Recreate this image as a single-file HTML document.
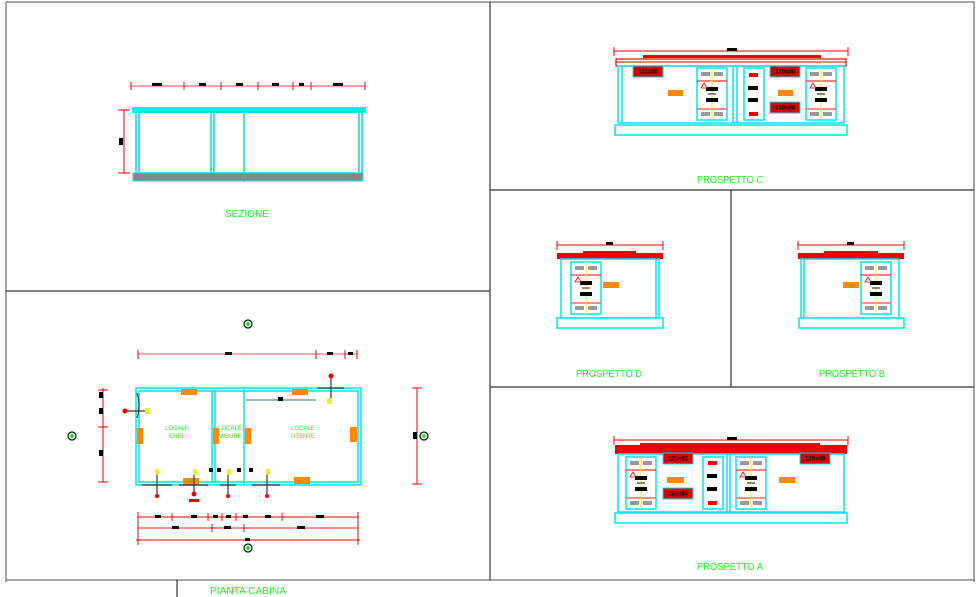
<!DOCTYPE html>
<html><head><meta charset="utf-8"><style>
html,body{margin:0;padding:0;background:#fff;}
svg{display:block;}
text{font-family:"Liberation Sans",sans-serif;}
.g{fill:#22ee22;font-size:10px;}
.k{fill:#000;font-size:4px;font-weight:bold;}
</style></head><body>
<svg width="980" height="597" viewBox="0 0 980 597" xmlns="http://www.w3.org/2000/svg">
<defs>
<g id="win">
  <rect x="0" y="0" width="30" height="52" fill="#fff" stroke="#00e5ee" stroke-width="1.5"/>
  <rect x="4" y="4" width="9" height="4" fill="#999"/><rect x="17" y="4" width="9" height="4" fill="#999"/>
  <line x1="0" y1="13" x2="30" y2="13" stroke="#e00" stroke-width="1"/>
  <line x1="0" y1="41" x2="30" y2="41" stroke="#f66" stroke-width="1.5"/>
  <rect x="4" y="44" width="9" height="4" fill="#999"/><rect x="17" y="44" width="9" height="4" fill="#999"/>
  <line x1="15" y1="0" x2="15" y2="52" stroke="#ee0" stroke-width="1"/>
  <rect x="9" y="19" width="12" height="4" fill="#000"/>
  <rect x="11" y="25" width="8" height="2" fill="#888"/>
  <rect x="9" y="30" width="12" height="4" fill="#000"/>
  <path d="M4 20 l3 -5 l3 5z" fill="none" stroke="#e00" stroke-width="0.8"/>
</g>
<g id="lbl"><rect x="0" y="0" width="30" height="11" fill="#d00" stroke="#00e5ee" stroke-width="1"/><text x="15" y="7.5" text-anchor="middle" style="font-size:6px;fill:#000;font-weight:bold">120x80</text></g>
</defs>

<!-- frames -->
<g stroke="#888" stroke-width="1.5" fill="none">
  <line x1="6" y1="2" x2="975" y2="2"/>
  <line x1="6" y1="2" x2="6" y2="582"/>
  <line x1="974" y1="2" x2="974" y2="582"/>
  <line x1="6" y1="580" x2="975" y2="580"/>
</g>
<g stroke="#333" stroke-width="1.2">
  <line x1="490" y1="2" x2="490" y2="580"/>
  <line x1="6" y1="291" x2="490" y2="291"/>
  <line x1="490" y1="190" x2="974" y2="190"/>
  <line x1="490" y1="387" x2="974" y2="387"/>
  <line x1="731" y1="190" x2="731" y2="387"/>
  <line x1="177" y1="580" x2="177" y2="597"/>
</g>

<!-- SEZIONE -->
<g>
  <line x1="131" y1="86" x2="365" y2="86" stroke="#f44" stroke-width="1"/>
  <g stroke="#e00" stroke-width="1">
    <line x1="131" y1="82" x2="131" y2="90"/><line x1="184" y1="82" x2="184" y2="90"/><line x1="221" y1="82" x2="221" y2="90"/>
    <line x1="258" y1="82" x2="258" y2="90"/><line x1="293" y1="82" x2="293" y2="90"/><line x1="311" y1="82" x2="311" y2="90"/><line x1="365" y1="82" x2="365" y2="90"/>
  </g>
  <g fill="#000"><rect x="152" y="83" width="10" height="3"/><rect x="199" y="83" width="7" height="3"/><rect x="236" y="83" width="7" height="3"/><rect x="272" y="83" width="7" height="3"/><rect x="299" y="83" width="5" height="3"/><rect x="333" y="83" width="10" height="3"/></g>
  <rect x="132" y="107" width="234" height="6" fill="#00f0f0"/>
  <g fill="none" stroke="#00d8e0" stroke-width="1.5">
    <rect x="136" y="112" width="226" height="61"/>
    <line x1="139" y1="112" x2="139" y2="172"/><line x1="359" y1="112" x2="359" y2="172"/>
    <line x1="211" y1="112" x2="211" y2="172"/><line x1="214" y1="112" x2="214" y2="172"/><line x1="244" y1="112" x2="244" y2="182"/>
  </g>
  <rect x="133" y="173" width="230" height="8" fill="#888" stroke="#00e5ee" stroke-width="1"/>
  <line x1="124" y1="110" x2="124" y2="173" stroke="#e00" stroke-width="1"/>
  <line x1="118" y1="110" x2="130" y2="110" stroke="#e00"/><line x1="118" y1="173" x2="130" y2="173" stroke="#e00"/>
  <rect x="119" y="138" width="4" height="7" fill="#000"/>
  <text x="247" y="217" class="g" text-anchor="middle" textLength="44" lengthAdjust="spacingAndGlyphs">SEZIONE</text>
</g>

<!-- PROSPETTO C -->
<g>
  <line x1="614" y1="51" x2="848" y2="51" stroke="#e00" stroke-width="1"/>
  <line x1="614" y1="47" x2="614" y2="56" stroke="#e00"/><line x1="848" y1="47" x2="848" y2="56" stroke="#e00"/>
  <rect x="727" y="48" width="10" height="3" fill="#000"/>
  <rect x="643" y="55" width="178" height="3" fill="#e00"/>
  <rect x="616" y="59" width="230" height="7" fill="#fff" stroke="#e00" stroke-width="1.2"/>
  <line x1="616" y1="62" x2="846" y2="62" stroke="#e00"/>
  <g fill="none" stroke="#00e5ee" stroke-width="1.5">
    <rect x="618" y="66" width="226" height="57"/>
    <line x1="622" y1="66" x2="622" y2="123"/>
    <line x1="733" y1="66" x2="733" y2="123"/><line x1="737" y1="66" x2="737" y2="123"/>
  </g>
  <rect x="615" y="125" width="232" height="10" fill="#fff" stroke="#00e5ee" stroke-width="1.5"/>
  <use href="#lbl" x="633" y="66"/>
  <use href="#lbl" x="770" y="66"/><use href="#lbl" x="770" y="102"/>
  <rect x="668" y="90" width="15" height="6" fill="#f80"/>
  <rect x="778" y="90" width="15" height="6" fill="#f80"/>
  <use href="#win" x="697" y="68"/>
  <use href="#win" x="806" y="68"/>
  <g><rect x="744" y="68" width="20" height="52" fill="#fff" stroke="#00e5ee" stroke-width="1.5"/>
    <rect x="749" y="73" width="9" height="4" fill="#e00"/><rect x="749" y="112" width="9" height="4" fill="#e00"/>
    <rect x="748" y="86" width="10" height="4" fill="#000"/><rect x="748" y="98" width="10" height="4" fill="#000"/></g>
  <text x="730" y="183" class="g" text-anchor="middle" textLength="66" lengthAdjust="spacingAndGlyphs">PROSPETTO C</text>
</g>

<!-- PROSPETTO D -->
<g>
  <line x1="557" y1="245" x2="663" y2="245" stroke="#e00"/>
  <line x1="557" y1="241" x2="557" y2="250" stroke="#e00"/><line x1="663" y1="241" x2="663" y2="250" stroke="#e00"/>
  <rect x="606" y="242" width="7" height="3" fill="#000"/>
  <path d="M557 253 H583 V251 H636 V253 H663 V259 H557Z" fill="#e00"/>
  <g fill="none" stroke="#00e5ee" stroke-width="1.5"><rect x="561" y="259" width="98" height="59"/><line x1="656" y1="259" x2="656" y2="318"/></g>
  <rect x="557" y="318" width="106" height="10" fill="#fff" stroke="#00e5ee" stroke-width="1.5"/>
  <use href="#win" x="571" y="262"/>
  <rect x="603" y="282" width="16" height="6" fill="#f80"/>
  <text x="609" y="377" class="g" text-anchor="middle" textLength="66" lengthAdjust="spacingAndGlyphs">PROSPETTO D</text>
</g>

<!-- PROSPETTO B -->
<g>
  <line x1="798" y1="245" x2="904" y2="245" stroke="#e00"/>
  <line x1="798" y1="241" x2="798" y2="250" stroke="#e00"/><line x1="904" y1="241" x2="904" y2="250" stroke="#e00"/>
  <rect x="847" y="242" width="7" height="3" fill="#000"/>
  <path d="M798 253 H824 V251 H878 V253 H904 V259 H798Z" fill="#e00"/>
  <g fill="none" stroke="#00e5ee" stroke-width="1.5"><rect x="801" y="259" width="98" height="59"/><line x1="804" y1="259" x2="804" y2="318"/></g>
  <rect x="799" y="318" width="105" height="10" fill="#fff" stroke="#00e5ee" stroke-width="1.5"/>
  <use href="#win" x="861" y="262"/>
  <rect x="843" y="282" width="16" height="6" fill="#f80"/>
  <text x="852" y="377" class="g" text-anchor="middle" textLength="66" lengthAdjust="spacingAndGlyphs">PROSPETTO B</text>
</g>

<!-- PROSPETTO A -->
<g>
  <line x1="614" y1="440" x2="848" y2="440" stroke="#e00"/>
  <line x1="614" y1="436" x2="614" y2="445" stroke="#e00"/><line x1="848" y1="436" x2="848" y2="445" stroke="#e00"/>
  <rect x="727" y="437" width="10" height="3" fill="#000"/>
  <path d="M615 445 H640 V443 H820 V445 H847 V454 H615Z" fill="#e00"/>
  <g fill="none" stroke="#00e5ee" stroke-width="1.5"><rect x="618" y="454" width="226" height="58"/><line x1="727" y1="454" x2="727" y2="512"/><line x1="730" y1="454" x2="730" y2="512"/></g>
  <rect x="615" y="513" width="232" height="10" fill="#fff" stroke="#00e5ee" stroke-width="1.5"/>
  <use href="#win" x="626" y="457"/>
  <use href="#win" x="736" y="457"/>
  <use href="#lbl" x="663" y="453"/><use href="#lbl" x="663" y="488"/><use href="#lbl" x="800" y="453"/>
  <rect x="667" y="477" width="17" height="6" fill="#f80"/>
  <rect x="779" y="477" width="16" height="6" fill="#f80"/>
  <g><rect x="703" y="457" width="20" height="52" fill="#fff" stroke="#00e5ee" stroke-width="1.5"/>
    <rect x="708" y="461" width="9" height="4" fill="#e00"/><rect x="708" y="501" width="9" height="4" fill="#e00"/>
    <rect x="707" y="474" width="10" height="4" fill="#000"/><rect x="707" y="487" width="10" height="4" fill="#000"/></g>
  <text x="730" y="570" class="g" text-anchor="middle" textLength="66" lengthAdjust="spacingAndGlyphs">PROSPETTO A</text>
</g>

<!-- PIANTA -->
<g>
  <g fill="none" stroke="#000" stroke-width="1.2">
    <circle cx="248" cy="324" r="4"/><circle cx="72" cy="436" r="4"/><circle cx="424" cy="436" r="4"/><circle cx="248" cy="548" r="4"/>
  </g>
  <g fill="#2e2"><circle cx="248" cy="324" r="2"/><circle cx="72" cy="436" r="2"/><circle cx="424" cy="436" r="2"/><circle cx="248" cy="548" r="2"/></g>
  <!-- top dim -->
  <line x1="138" y1="354" x2="357" y2="354" stroke="#f55"/>
  <g stroke="#e00"><line x1="138" y1="350" x2="138" y2="359"/><line x1="316" y1="350" x2="316" y2="359"/><line x1="345" y1="350" x2="345" y2="359"/><line x1="357" y1="350" x2="357" y2="359"/></g>
  <rect x="225" y="352" width="7" height="3" fill="#000"/><rect x="327" y="352" width="6" height="3" fill="#000"/><rect x="348" y="352" width="5" height="3" fill="#000"/>
  <!-- walls -->
  <g fill="none" stroke="#00e5ee" stroke-width="1.5">
    <rect x="136" y="388" width="225" height="97"/><rect x="139" y="391" width="219" height="91"/>
    <line x1="212" y1="391" x2="212" y2="482"/><line x1="215" y1="391" x2="215" y2="482"/>
    <line x1="244" y1="388" x2="244" y2="485"/>
  </g>
  <g fill="#f80">
    <rect x="181" y="389" width="16" height="6"/><rect x="292" y="389" width="16" height="6"/>
    <rect x="137" y="428" width="6" height="16"/><rect x="213" y="428" width="6" height="16"/><rect x="245" y="428" width="6" height="16"/><rect x="350" y="427" width="7" height="15"/>
    <rect x="183" y="478" width="16" height="7"/><rect x="294" y="477" width="16" height="7"/>
  </g>
  <line x1="246" y1="400" x2="316" y2="400" stroke="#2a6a7a"/>
  <rect x="278" y="397" width="5" height="4" fill="#000"/>
  <g stroke="#333" stroke-width="1.2" fill="none">
    <line x1="318" y1="388" x2="344" y2="388"/><line x1="331" y1="378" x2="331" y2="398"/>
    <path d="M137 393 Q141 405 137 418"/><line x1="127" y1="411" x2="147" y2="411"/>
    <line x1="142" y1="485" x2="172" y2="485"/><line x1="157" y1="475" x2="157" y2="494"/>
    <line x1="179" y1="485" x2="208" y2="485"/><line x1="194" y1="475" x2="194" y2="494"/>
    <line x1="220" y1="485" x2="236" y2="485"/><line x1="228" y1="475" x2="228" y2="494"/>
    <line x1="252" y1="485" x2="280" y2="485"/><line x1="267" y1="475" x2="267" y2="494"/>
  </g>
  <g fill="#ee2"><rect x="327" y="398" width="5" height="6"/><rect x="145" y="408" width="5" height="6"/>
    <rect x="155" y="469" width="4" height="6"/><rect x="193" y="469" width="4" height="6"/><rect x="227" y="469" width="4" height="6"/><rect x="266" y="469" width="4" height="6"/></g>
  <g fill="#e00"><circle cx="331" cy="376" r="2.5"/><circle cx="125" cy="411" r="2.5"/><circle cx="157" cy="496" r="2"/><circle cx="194" cy="494" r="2.5"/><circle cx="228" cy="496" r="2"/><circle cx="267" cy="496" r="2"/><rect x="189" y="499" width="10" height="3"/></g>
  <g fill="#000"><rect x="209" y="468" width="4" height="4"/><rect x="217" y="468" width="4" height="4"/><rect x="237" y="468" width="4" height="4"/><rect x="249" y="468" width="4" height="4"/></g>
  <g class="g" style="font-size:6px" text-anchor="middle">
    <text x="177" y="430">LOCALE</text><text x="177" y="438">ENEL</text>
    <text x="230" y="430">LOCALE</text><text x="230" y="438">MISURE</text>
    <text x="303" y="430">LOCALE</text><text x="303" y="438">UTENTE</text>
  </g>
  <!-- left/right dims -->
  <line x1="103" y1="388" x2="103" y2="482" stroke="#e00"/>
  <g stroke="#e00"><line x1="98" y1="390" x2="108" y2="390"/><line x1="98" y1="427" x2="108" y2="427"/><line x1="98" y1="482" x2="108" y2="482"/></g>
  <g fill="#000"><rect x="99" y="392" width="4" height="6"/><rect x="99" y="408" width="4" height="6"/><rect x="99" y="450" width="4" height="6"/></g>
  <line x1="417" y1="388" x2="417" y2="484" stroke="#e00"/>
  <g stroke="#e00"><line x1="412" y1="388" x2="422" y2="388"/><line x1="412" y1="484" x2="422" y2="484"/></g>
  <rect x="413" y="432" width="4" height="7" fill="#000"/>
  <!-- bottom dims -->
  <line x1="138" y1="517" x2="358" y2="517" stroke="#e00"/>
  <line x1="138" y1="528" x2="358" y2="528" stroke="#f66" stroke-width="1.5"/>
  <line x1="136" y1="540" x2="360" y2="540" stroke="#e00"/>
  <g stroke="#e00"><line x1="138" y1="512" x2="138" y2="545"/><line x1="358" y1="512" x2="358" y2="545"/>
    <line x1="172" y1="513" x2="172" y2="521"/><line x1="208" y1="513" x2="208" y2="521"/><line x1="222" y1="513" x2="222" y2="521"/><line x1="236" y1="513" x2="236" y2="521"/><line x1="282" y1="513" x2="282" y2="521"/>
    <line x1="212" y1="524" x2="212" y2="532"/><line x1="244" y1="524" x2="244" y2="532"/></g>
  <g fill="#000"><rect x="155" y="515" width="6" height="3"/><rect x="191" y="515" width="6" height="3"/><rect x="213" y="515" width="5" height="3"/><rect x="226" y="515" width="5" height="3"/><rect x="243" y="515" width="5" height="3"/><rect x="265" y="515" width="6" height="3"/><rect x="316" y="515" width="8" height="3"/>
    <rect x="172" y="526" width="7" height="3"/><rect x="224" y="526" width="7" height="3"/><rect x="297" y="526" width="8" height="3"/><rect x="245" y="538" width="5" height="3"/></g>
  <text x="248" y="594" class="g" text-anchor="middle" textLength="76" lengthAdjust="spacingAndGlyphs">PIANTA CABINA</text>
</g>
</svg>
</body></html>
